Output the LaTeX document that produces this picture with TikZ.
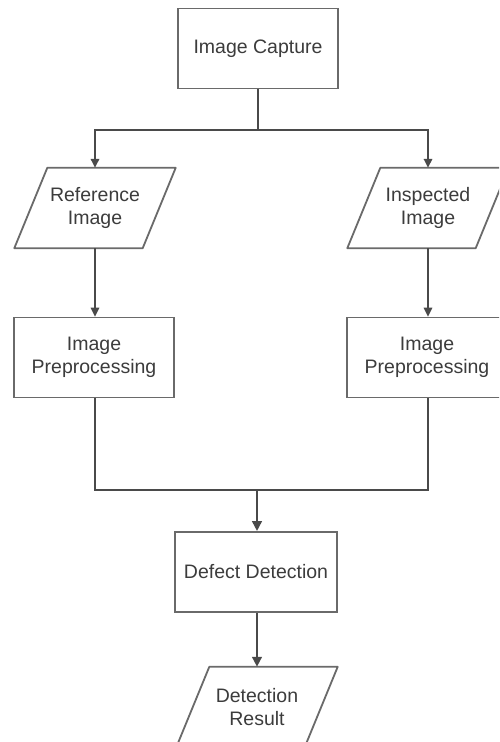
\documentclass[tikz,border=0pt]{standalone}
\usepackage{fontspec}
\setmainfont{Liberation Sans}
\usetikzlibrary{arrows.meta}
\definecolor{linegray}{HTML}{4A4A4A}
\definecolor{boxgray}{HTML}{6A6A6A}
\definecolor{txtgray}{HTML}{3C3C3C}
\tikzset{
  procbox/.style={draw=boxgray, line width=1.8pt, fill=white, minimum width=160pt, minimum height=80pt,
    align=center, text=txtgray, font=\fontsize{19.5}{23}\selectfont, inner sep=0pt},
  iobox/.style={minimum width=128pt, minimum height=80pt, align=center, text=txtgray,
    font=\fontsize{19.5}{23}\selectfont, inner sep=0pt},
  ioshape/.style={draw=boxgray, line width=1.8pt, line join=round},
  thinline/.style={draw=linegray, line width=1.6pt},
  thickline/.style={draw=linegray, line width=2.8pt},
  thinarrow/.style={thinline, -{Triangle[length=9pt,width=8.5pt]}},
  thickarrow/.style={thickline, -{Triangle[length=10pt,width=9.5pt]}},
}
\newcommand{\paral}[1]{%
  \draw[ioshape] ([xshift=16.5pt]#1.north west) -- ([xshift=16.5pt]#1.north east)
    -- ([xshift=-16.5pt]#1.south east) -- ([xshift=-16.5pt]#1.south west) -- cycle;}
\begin{document}
\begin{tikzpicture}[x=1pt,y=-1pt]
\useasboundingbox (0,0) rectangle (499,742);
\clip (0,0) rectangle (499,742);
\fill[white] (0,0) rectangle (499,742);

\node[procbox] (cap) at (258,48.5) {Image Capture};
\node[iobox] (ref) at (95,208) {Reference\\Image};
\node[iobox] (insp) at (428,208) {Inspected\\Image};
\paral{ref}
\paral{insp}
\node[procbox] (pre1) at (94,357.5) {Image\\Preprocessing};
\node[procbox] (pre2) at (427,357.5) {Image\\Preprocessing};
\node[procbox, minimum width=162pt] (det) at (256,572) {Defect Detection};
\node[iobox] (res) at (257,707) {Detection\\Result};
\paral{res}

\coordinate (j1) at (258,130);
\coordinate (j2) at (257,490);

\draw[thickline] (cap.south) -- (j1);
\draw[thinarrow] (j1) -| (ref.north);
\draw[thinarrow] (j1) -| (insp.north);
\draw[thinarrow] (ref.south) -- (ref.south |- pre1.north);
\draw[thinarrow] (insp.south) -- (insp.south |- pre2.north);
\draw[thinline] (ref.south |- pre1.south) |- (j2);
\draw[thinline] (insp.south |- pre2.south) |- (j2);
\draw[thickarrow] (j2) -- (j2 |- det.north);
\draw[thickarrow] (det.south -| res.north) -- (res.north);
\end{tikzpicture}
\end{document}
